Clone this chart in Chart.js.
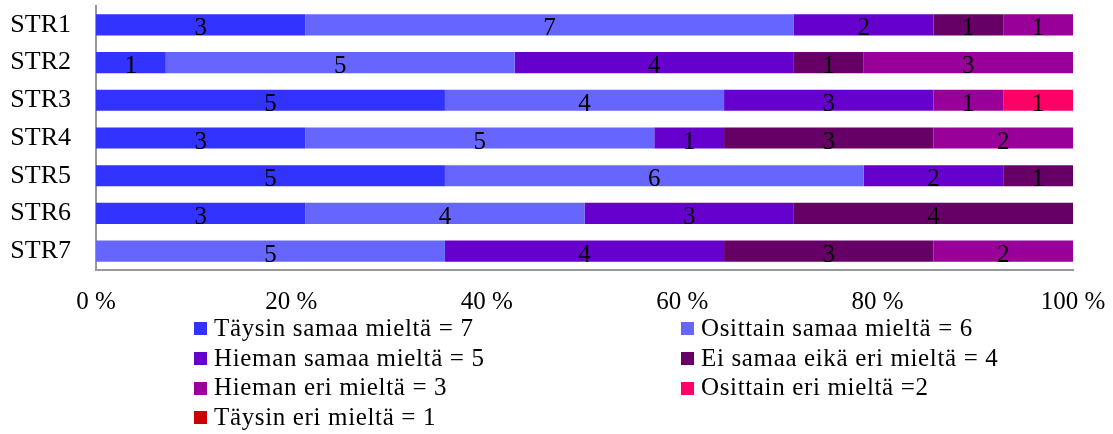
<!DOCTYPE html>
<html>
<head>
<meta charset="utf-8">
<script src="https://cdn.jsdelivr.net/npm/chart.js@4/dist/chart.umd.min.js"></script>
<style>
  html, body { margin: 0; padding: 0; background: #fff; }
  #wrap { position: relative; width: 1113px; height: 434px; overflow: hidden; }
  #chart { position: absolute; left: 0; top: 0; }
  #legend { position: absolute; left: 194px; top: 313px; width: 900px;
            display: grid; grid-template-columns: 487px 400px; grid-auto-rows: 29.7px;
            font-family: "Liberation Serif", "Times New Roman", serif; font-size: 25px;
            letter-spacing: 0.65px; color: #000; }
  .item { display: flex; align-items: center; white-space: nowrap; }
  .box { width: 13px; height: 13px; margin-right: 7px; flex: none; position: relative; top: 1px; }
</style>
</head>
<body>
<div id="wrap">
  <canvas id="chart" width="1113" height="434"></canvas>
  <div id="legend"></div>
</div>
<script>
// Statements STR1..STR7, answer counts per response option
const categories = ['STR1', 'STR2', 'STR3', 'STR4', 'STR5', 'STR6', 'STR7'];

const seriesNames = [
  'Täysin samaa mieltä = 7',
  'Osittain samaa mieltä = 6',
  'Hieman samaa mieltä = 5',
  'Ei samaa eikä eri mieltä = 4',
  'Hieman eri mieltä = 3',
  'Osittain eri mieltä =2',
  'Täysin eri mieltä = 1'
];
const seriesColors = ['#3333FF', '#6666FF', '#6600CC', '#660066', '#990099', '#FF0066', '#CC0000'];

const taysinSamaa    = [3, 1, 5, 3, 5, 3, 0];
const osittainSamaa  = [7, 5, 4, 5, 6, 4, 5];
const hiemanSamaa    = [2, 4, 3, 1, 2, 3, 4];
const eiSamaaEikaEri = [1, 1, 0, 3, 1, 4, 3];
const hiemanEri      = [1, 3, 1, 2, 0, 0, 2];
const osittainEri    = [0, 0, 1, 0, 0, 0, 0];
const taysinEri      = [0, 0, 0, 0, 0, 0, 0];

const xTickValues = [0, 20, 40, 60, 80, 100];
const xTickSuffix = ' %';

const seriesCounts = [taysinSamaa, osittainSamaa, hiemanSamaa, eiSamaaEikaEri, hiemanEri, osittainEri, taysinEri];

// Row totals, used to turn counts into shares of 100 %
const rowTotals = categories.map((_, i) => seriesCounts.reduce((s, arr) => s + arr[i], 0));

const serif = '"Liberation Serif", "Times New Roman", serif';

const datasets = seriesCounts.map((counts, k) => ({
  label: seriesNames[k],
  counts: counts,
  data: counts.map((c, i) => c / rowTotals[i] * 100),
  backgroundColor: seriesColors[k],
  borderWidth: 0
}));

// Count labels centred inside each segment
const segmentLabels = {
  id: 'segmentLabels',
  afterDatasetsDraw(chart) {
    const ctx = chart.ctx;
    ctx.save();
    ctx.font = '25px ' + serif;
    ctx.fillStyle = '#000';
    ctx.textAlign = 'center';
    ctx.textBaseline = 'alphabetic';
    chart.data.datasets.forEach((ds, k) => {
      const meta = chart.getDatasetMeta(k);
      meta.data.forEach((el, i) => {
        const v = ds.counts[i];
        if (!v) return;
        const cx = (el.x + el.base) / 2;
        ctx.fillText(String(v), cx, el.y + 0.34 * 25 + 2);
      });
    });
    ctx.restore();
  }
};

new Chart(document.getElementById('chart'), {
  type: 'bar',
  data: { labels: categories, datasets: datasets },
  options: {
    indexAxis: 'y',
    responsive: false,
    animation: false,
    devicePixelRatio: 1,
    layout: { padding: { top: 6, right: 40, bottom: 124, left: 0 } },
    datasets: { bar: { categoryPercentage: 1, barPercentage: 0.56 } },
    plugins: { legend: { display: false }, tooltip: { enabled: false } },
    scales: {
      x: {
        stacked: true,
        min: 0,
        max: 100,
        afterBuildTicks(scale) { scale.ticks = xTickValues.map(v => ({ value: v })); },
        afterFit(scale) {
          scale.height = 40;
          scale.paddingLeft = 0;
          scale.paddingRight = 0;
        },
        grid: { display: false, drawTicks: false },
        border: { display: true, color: '#999999', width: 2 },
        ticks: {
          padding: 17,
          color: '#000',
          font: { family: serif, size: 25 },
          maxRotation: 0,
          autoSkip: false,
          callback: v => v + xTickSuffix
        }
      },
      y: {
        stacked: true,
        afterFit(scale) {
          scale.width = 96;
          scale.paddingTop = 0;
          scale.paddingBottom = 0;
        },
        grid: { display: false, drawTicks: false },
        border: { display: true, color: '#999999', width: 2 },
        ticks: {
          padding: 25,
          autoSkip: false,
          color: '#000',
          font: { family: serif, size: 26 }
        }
      }
    }
  },
  plugins: [segmentLabels]
});

// Two-column legend built from the series names and colours
const legend = document.getElementById('legend');
seriesNames.forEach((name, k) => {
  const item = document.createElement('div');
  item.className = 'item';
  const box = document.createElement('span');
  box.className = 'box';
  box.style.background = seriesColors[k];
  const txt = document.createElement('span');
  txt.textContent = name;
  item.appendChild(box);
  item.appendChild(txt);
  legend.appendChild(item);
});
</script>
</body>
</html>
